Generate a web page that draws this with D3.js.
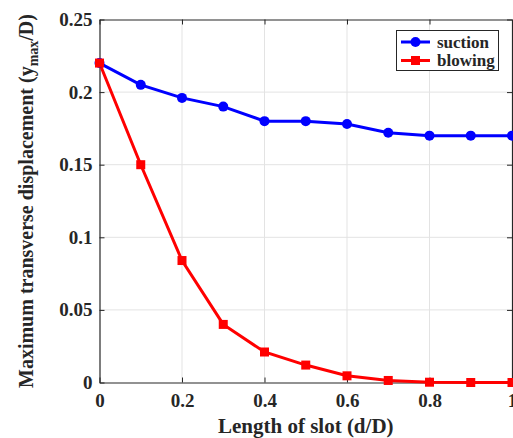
<!DOCTYPE html>
<html>
<head>
<meta charset="utf-8">
<script src="https://cdn.jsdelivr.net/npm/d3@7"></script>
<style>
  html, body { margin: 0; padding: 0; background: #fff; }
  svg { display: block; }
</style>
</head>
<body>
<svg id="chart" width="513" height="438"></svg>
<script>
// Slot length ratio d/D
const slotLength = [0, 0.1, 0.2, 0.3, 0.4, 0.5, 0.6, 0.7, 0.8, 0.9, 1.0];
// Maximum transverse displacement y_max/D
const suction = [0.220, 0.205, 0.196, 0.190, 0.180, 0.180, 0.178, 0.172, 0.170, 0.170, 0.170];
const blowing = [0.220, 0.150, 0.084, 0.040, 0.021, 0.012, 0.0046, 0.0014, 0.0002, 0.0, 0.0];
const xTicks = [0, 0.2, 0.4, 0.6, 0.8, 1];
const yTicks = [0, 0.05, 0.1, 0.15, 0.2, 0.25];
const xTickLabels = ["0", "0.2", "0.4", "0.6", "0.8", "1"];
const yTickLabels = ["0", "0.05", "0.1", "0.15", "0.2", "0.25"];

const FONT = "'Liberation Serif', 'Times New Roman', serif";
const INK = "#262626";

const svg = d3.select("#chart")
  .attr("font-family", FONT).attr("font-weight", "bold");
const m = { left: 99.5, right: 512, top: 19.5, bottom: 382.5 };
const x = d3.scaleLinear().domain([0, 1]).range([m.left, m.right]);
const y = d3.scaleLinear().domain([0, 0.25]).range([m.bottom, m.top]);

// grid
const grid = svg.append("g");
grid.selectAll(".gx").data(xTicks.slice(1, -1)).join("line")
  .attr("x1", d => x(d)).attr("x2", d => x(d))
  .attr("y1", m.top).attr("y2", m.bottom)
  .attr("stroke", "#e3e3e3").attr("stroke-width", 1);
grid.selectAll(".gy").data(yTicks.slice(1, -1)).join("line")
  .attr("y1", d => y(d)).attr("y2", d => y(d))
  .attr("x1", m.left).attr("x2", m.right)
  .attr("stroke", "#e3e3e3").attr("stroke-width", 1);

// axes with inward ticks on all four sides
const tickLen = 5;
const xAxis = svg.append("g").attr("transform", `translate(0,${m.bottom})`)
  .call(d3.axisBottom(x).tickValues(xTicks).tickSizeInner(-tickLen).tickSizeOuter(0)
    .tickFormat((d, i) => xTickLabels[i]).tickPadding(11));
const yAxis = svg.append("g").attr("transform", `translate(${m.left},0)`)
  .call(d3.axisLeft(y).tickValues(yTicks).tickSizeInner(-tickLen).tickSizeOuter(0)
    .tickFormat((d, i) => yTickLabels[i]).tickPadding(7));
const xTop = svg.append("g").attr("transform", `translate(0,${m.top})`)
  .call(d3.axisTop(x).tickValues(xTicks).tickSizeInner(-tickLen).tickSizeOuter(0).tickFormat(""));
const yRight = svg.append("g").attr("transform", `translate(${m.right},0)`)
  .call(d3.axisRight(y).tickValues(yTicks).tickSizeInner(-tickLen).tickSizeOuter(0).tickFormat(""));
[xAxis, yAxis, xTop, yRight].forEach(g => {
  g.attr("font-family", FONT).attr("font-size", 19);
  g.select(".domain").attr("stroke", INK).attr("stroke-width", 1.2);
  g.selectAll(".tick line").attr("stroke", INK);
  g.selectAll("text").attr("fill", INK);
});

// series lines and markers
const line = d3.line().x((d, i) => x(slotLength[i])).y(d => y(d));
svg.append("path").datum(blowing).attr("d", line)
  .attr("fill", "none").attr("stroke", "#ff0000").attr("stroke-width", 3);
svg.append("path").datum(suction).attr("d", line)
  .attr("fill", "none").attr("stroke", "#0000ff").attr("stroke-width", 3);

svg.append("g").selectAll("circle").data(suction).join("circle")
  .attr("cx", (d, i) => x(slotLength[i])).attr("cy", d => y(d)).attr("r", 5)
  .attr("fill", "#0000ff");
const sq = 9;
svg.append("g").selectAll("rect").data(blowing).join("rect")
  .attr("x", (d, i) => x(slotLength[i]) - sq / 2).attr("y", d => y(d) - sq / 2)
  .attr("width", sq).attr("height", sq).attr("fill", "#ff0000");

// legend
const lg = svg.append("g");
lg.append("rect").attr("x", 396.5).attr("y", 30.5).attr("width", 102).attr("height", 40)
  .attr("fill", "#fff").attr("stroke", INK).attr("stroke-width", 1);
const items = [{ name: "suction", color: "#0000ff", shape: "circle" },
               { name: "blowing", color: "#ff0000", shape: "square" }];
items.forEach((it, i) => {
  const yy = 42 + i * 18.5;
  lg.append("line").attr("x1", 401).attr("x2", 430).attr("y1", yy).attr("y2", yy)
    .attr("stroke", it.color).attr("stroke-width", 3);
  if (it.shape === "circle") {
    lg.append("circle").attr("cx", 415.5).attr("cy", yy).attr("r", 5).attr("fill", it.color);
  } else {
    lg.append("rect").attr("x", 411).attr("y", yy - 4.5).attr("width", 9).attr("height", 9).attr("fill", it.color);
  }
  lg.append("text").attr("x", 437).attr("y", yy + 5.5).attr("font-size", 17)
    .attr("fill", INK).text(it.name);
});

// axis titles
svg.append("text").attr("x", (m.left + m.right) / 2).attr("y", 433)
  .attr("text-anchor", "middle").attr("font-size", 21).attr("fill", INK)
  .text("Length of slot (d/D)");
const yt = svg.append("text")
  .attr("transform", `translate(33,${(m.top + m.bottom) / 2}) rotate(-90)`)
  .attr("text-anchor", "middle").attr("font-size", 20).attr("fill", INK);
yt.append("tspan").text("Maximum transverse displacement (y");
yt.append("tspan").attr("font-size", 14).attr("dy", 5).text("max");
yt.append("tspan").attr("dy", -5).text("/D)");
</script>
</body>
</html>
